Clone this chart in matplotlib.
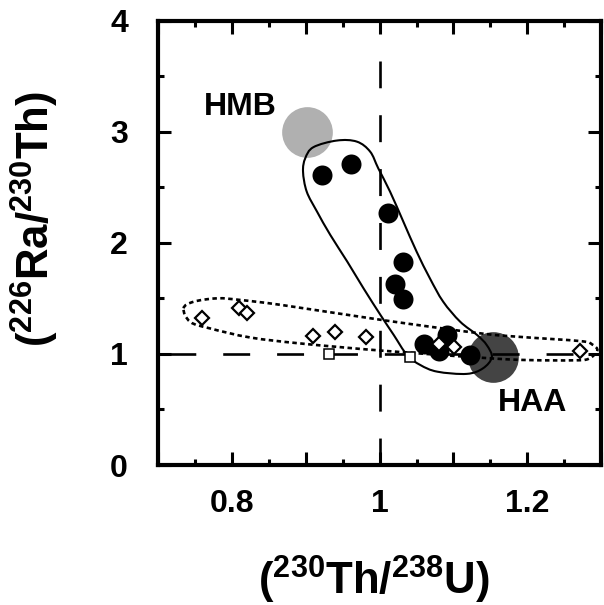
import numpy as np
import matplotlib
matplotlib.use("Agg")
import matplotlib.pyplot as plt
from matplotlib.path import Path
from matplotlib.patches import PathPatch

plt.rcParams['font.family'] = ['Liberation Sans', 'DejaVu Sans']
plt.rcParams['font.weight'] = 'bold'
plt.rcParams['mathtext.fontset'] = 'custom'
plt.rcParams['mathtext.rm'] = 'Liberation Sans:bold'
plt.rcParams['mathtext.bf'] = 'Liberation Sans:bold'
plt.rcParams['mathtext.it'] = 'Liberation Sans:bold'

# --- samples -------------------------------------------------------------
# filled circles
circle_x = [0.922, 0.961, 1.011, 1.031, 1.021, 1.031, 1.060, 1.091, 1.081, 1.122]
circle_y = [2.61, 2.71, 2.27, 1.83, 1.63, 1.49, 1.09, 1.17, 1.03, 0.99]
# open diamonds
diamond_x = [0.759, 0.809, 0.820, 0.910, 0.940, 0.981, 1.081, 1.101, 1.272]
diamond_y = [1.32, 1.41, 1.37, 1.16, 1.20, 1.15, 1.09, 1.06, 1.03]
# open squares
square_x = [0.931, 1.041]
square_y = [1.00, 0.97]

# end-members
endmember_names = ['HMB', 'HAA']
endmember_x = [0.901, 1.154]
endmember_y = [3.00, 0.975]
endmember_colors = ['#b0b0b0', '#444444']
endmember_label_x = [0.8105, 1.2077]
endmember_label_y = [3.146, 0.485]

# outline of the filled-circle field
field_x = [0.942, 0.969, 0.987, 0.998, 1.014, 1.032, 1.050, 1.068, 1.086, 1.109,
           1.132, 1.145, 1.152, 1.140, 1.118, 1.078, 1.055, 1.037, 1.019, 1.001,
           0.978, 0.956, 0.933, 0.915, 0.901, 0.896, 0.899, 0.910]
field_y = [2.92, 2.91, 2.82, 2.67, 2.46, 2.19, 1.92, 1.68, 1.47, 1.29,
           1.17, 1.08, 0.97, 0.87, 0.82, 0.84, 0.90, 0.99, 1.17, 1.35,
           1.59, 1.83, 2.07, 2.28, 2.46, 2.64, 2.76, 2.86]
# outline of the diamond field
dfield_x = [0.734, 0.748, 0.780, 0.811, 0.869, 1.005, 1.136, 1.190, 1.272, 1.288,
            1.295, 1.283, 1.262, 1.204, 1.150, 1.005, 0.892, 0.824, 0.770, 0.743]
dfield_y = [1.41, 1.47, 1.50, 1.485, 1.438, 1.303, 1.185, 1.153, 1.115, 1.085,
            1.03, 0.955, 0.942, 0.944, 0.96, 1.028, 1.094, 1.148, 1.229, 1.288]

# axes
x_major = [0.7, 0.8, 0.9, 1.0, 1.1, 1.2, 1.3]
x_major_labels = ['', '0.8', '', '1', '', '1.2', '']
x_minor = [0.75, 0.85, 0.95, 1.05, 1.15, 1.25]
y_major = [0, 1, 2, 3, 4]
y_major_labels = ['0', '1', '2', '3', '4']
y_minor = [0.5, 1.5, 2.5, 3.5]


def smooth_closed(xs, ys):
    """Closed cubic Bezier path through the given outline vertices."""
    p = np.column_stack([xs, ys])
    n = len(p)
    verts = [p[0]]
    codes = [Path.MOVETO]
    for i in range(n):
        p0, p1, p2, p3 = p[i - 1], p[i], p[(i + 1) % n], p[(i + 2) % n]
        verts += [p1 + (p2 - p0) / 6.0, p2 - (p3 - p1) / 6.0, p2]
        codes += [Path.CURVE4] * 3
    return Path(verts, codes)


fig = plt.figure(figsize=(6.04, 6.05), dpi=100)
ax = fig.add_axes([0.2624, 0.2314, 0.9950 - 0.2624, 0.9661 - 0.2314])
ax.set_xlim(0.7, 1.3)
ax.set_ylim(0, 4)

# end-member discs
for ex, ey, ec in zip(endmember_x, endmember_y, endmember_colors):
    ax.plot([ex], [ey], 'o', ms=36.5, color=ec, mec='none', zorder=1)

# equilibrium lines
lw_ref = 1.9
dash = 19.4 / lw_ref
ax.plot([0.7, 1.3], [1, 1], color='black', lw=lw_ref,
        linestyle=(31.0 / lw_ref, (dash, dash)), zorder=2)
ax.plot([1, 1], [0, 3.64], color='black', lw=lw_ref,
        linestyle=(0, (dash, dash)), zorder=2)

# fields
ax.add_patch(PathPatch(smooth_closed(field_x, field_y), fill=False,
                       ec='black', lw=1.5, zorder=3))
ax.add_patch(PathPatch(smooth_closed(dfield_x, dfield_y), fill=False,
                       ec='black', lw=1.9, linestyle=(0, (1.7, 1.3)), zorder=3))

# samples
ax.plot(circle_x, circle_y, 'o', ms=14.4, color='black', mec='none', zorder=4)
ax.plot(diamond_x, diamond_y, 'D', ms=7.2, mfc='white', mec='black',
        mew=1.6, ls='none', zorder=5)
ax.plot(square_x, square_y, 's', ms=6.6, mfc='white', mec='black',
        mew=1.1, ls='none', zorder=5)

for name, lx, ly in zip(endmember_names, endmember_label_x, endmember_label_y):
    ax.text(lx, ly, name, fontsize=23, fontweight='bold', ha='center',
            va='baseline', zorder=6)

# ticks
ax.set_xticks(x_major)
ax.set_xticklabels(x_major_labels)
ax.set_xticks(x_minor, minor=True)
ax.set_yticks(y_major)
ax.set_yticklabels(y_major_labels)
ax.set_yticks(y_minor, minor=True)
ax.tick_params(which='both', direction='in', top=True, right=True, width=2.2)
ax.tick_params(which='major', length=9.5)
ax.tick_params(which='minor', length=4.5)
ax.tick_params(axis='x', which='major', labelsize=23, pad=17)
ax.tick_params(axis='y', which='major', labelsize=23, pad=22)
for lab in ax.get_xticklabels() + ax.get_yticklabels():
    lab.set_fontweight('bold')
for sp in ax.spines.values():
    sp.set_linewidth(3.0)

fig.text(374 / 604, 0.017, r'$\mathrm{(^{230}Th/^{238}U)}$', fontsize=31.5,
         ha='center', va='baseline')
fig.text(35 / 604, 1 - 219 / 605, r'$\mathrm{(^{226}Ra/^{230}Th)}$', fontsize=31.5,
         ha='center', va='center', rotation=90)

fig.savefig('out.png', dpi=100)
